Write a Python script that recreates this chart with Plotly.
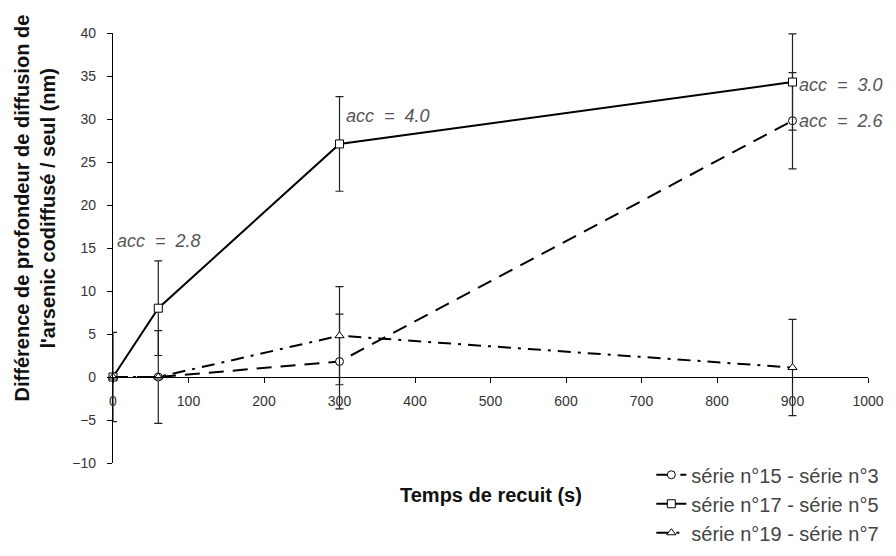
import plotly.graph_objects as go

# Annealing time (s)
temps = [0, 60, 300, 900]

# Difference in arsenic diffusion depth, codiffused vs alone (nm)
serie_15_3 = [0, 0, 1.8, 29.8]
serie_17_5 = [0, 8.0, 27.1, 34.3]
serie_19_7 = [0, 0, 4.8, 1.1]

# Error bar half-widths (nm)
err_15_3 = [5.2, 5.4, 5.5, 5.6]
err_17_5 = [0, 5.5, 5.5, 5.6]
err_19_7 = [0, 0, 5.7, 5.6]

noms = ["série n°15 - série n°3", "série n°17 - série n°5", "série n°19 - série n°7"]

# acceleration labels (x, y, text)
acc_x = [0, 300, 900, 900]
acc_y = [15.8, 30.4, 34.0, 29.8]
acc_txt = ["2.8", "4.0", "3.0", "2.6"]

y_min, y_max = -10, 40
x_min, x_max = 0, 1000

FONT = "Arial, Liberation Sans, sans-serif"

fig = go.Figure()

styles = [
    # (values, errors, symbol, dash)
    (serie_15_3, err_15_3, "circle", "15px,9px"),
    (serie_17_5, err_17_5, "square", "solid"),
    (serie_19_7, err_19_7, "triangle-up", "13px,7px,3px,7px"),
]

for nom, (vals, errs, sym, dash) in zip(noms, styles):
    fig.add_trace(go.Scatter(
        x=temps, y=vals, name=nom, mode="lines+markers",
        line=dict(color="black", width=2, dash=dash),
        marker=dict(symbol=sym, size=8, color="white",
                    line=dict(color="black", width=1)),
        error_y=dict(type="data", array=errs, visible=True, color="#222",
                     thickness=1.2, width=4),
        cliponaxis=False,
    ))

# acc labels
for ax_, ay_, t in zip(acc_x, acc_y, acc_txt):
    fig.add_annotation(
        x=ax_, y=ay_, xref="x", yref="y", showarrow=False,
        text="acc\u00a0\u00a0=\u00a0\u00a0" + t,
        xanchor="left", yanchor="middle", xshift=2 if ax_ == 0 else 4,
        font=dict(family=FONT, size=18, color="#555", style="italic"),
    )

# axis titles
fig.add_annotation(
    x=0, y=0.592, xref="paper", yref="paper", showarrow=False,
    text="Différence de profondeur de diffusion de", textangle=-90,
    xanchor="center", yanchor="middle", xshift=-91,
    font=dict(family=FONT, size=20, color="#111", weight="bold"),
)
fig.add_annotation(
    x=0, y=0.592, xref="paper", yref="paper", showarrow=False,
    text="l'arsenic codiffusé / seul (nm)", textangle=-90,
    xanchor="center", yanchor="middle", xshift=-65,
    font=dict(family=FONT, size=20, color="#111", weight="bold"),
)
fig.add_annotation(
    x=0.5, y=0, xref="paper", yref="paper", showarrow=False,
    text="Temps de recuit (s)", xanchor="center", yanchor="middle", yshift=-32,
    font=dict(family=FONT, size=20, color="#111", weight="bold"),
)

fig.update_layout(
    width=896, height=556,
    margin=dict(l=105, r=36, t=25, b=78),
    paper_bgcolor="white", plot_bgcolor="white",
    font=dict(family=FONT, color="#333"),
    showlegend=True,
    legend=dict(
        x=0.713, y=0.018, xanchor="left", yanchor="top",
        font=dict(family=FONT, size=20, color="#444"),
        bgcolor="rgba(0,0,0,0)", traceorder="normal",
    ),
    xaxis=dict(
        range=[x_min, x_max], dtick=100, showgrid=False, zeroline=False,
        showline=True, linecolor="black", linewidth=1.2,
        ticks="outside", ticklen=5, tickcolor="black",
        anchor="free", position=(0 - y_min) / (y_max - y_min),
        ticklabelstandoff=6,
        tickfont=dict(size=14, color="#333"),
    ),
    yaxis=dict(
        range=[y_min, y_max], dtick=5, showgrid=False, zeroline=False,
        showline=True, linecolor="black", linewidth=1.2,
        ticks="outside", ticklen=5, tickcolor="black",
        ticklabelstandoff=8,
        tickfont=dict(size=14, color="#333"),
    ),
)

fig.write_html("out.html")
